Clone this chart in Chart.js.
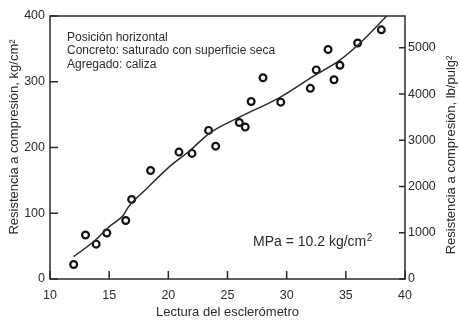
<!DOCTYPE html>
<html>
<head>
<meta charset="utf-8">
<script src="https://cdn.jsdelivr.net/npm/chart.js@4/dist/chart.umd.min.js"></script>
<style>
  html, body { margin: 0; padding: 0; background: #fff; }
  #wrap { width: 460px; height: 320px; }
</style>
</head>
<body>
<div id="wrap"><canvas id="chart" width="460" height="320"></canvas></div>
<script>
// lectura del esclerometro vs resistencia (kg/cm2)
const lecturas = [12, 13, 13.9, 14.8, 16.4, 16.9, 18.5, 20.9, 22, 23.4, 24, 26, 26.5, 27, 28, 29.5, 32, 32.5, 33.5, 34, 34.5, 36, 38];
const resistencias = [22, 67, 53, 70, 89, 121, 165, 193, 191, 226, 202, 238, 231, 270, 306, 269, 290, 318, 349, 303, 325, 359, 379];

// fitted curve
const curvaX = [12, 13.7, 15.1, 16.2, 16.6, 18.2, 20.1, 21.8, 23.5, 26.1, 29.4, 32.3, 34.5, 36.2, 38.45];
const curvaY = [34, 57, 81, 97, 109, 138, 171, 195, 222, 247, 276, 309, 333, 359, 400];

const xTicks = [10, 15, 20, 25, 30, 35, 40];
const yTicksKg = [0, 100, 200, 300, 400];
const yTicksPsi = [0, 1000, 2000, 3000, 4000, 5000];
const KG_TO_PSI = 14.223;

const notas = ['Posición horizontal', 'Concreto: saturado con superficie seca', 'Agregado: caliza'];
const tituloIzq = 'Resistencia a compresión, kg/cm²';
const tituloDer = 'Resistencia a compresión, lb/pulg²';

const ink = '#2b2b2b';
const fontFam = '"Liberation Sans", Arial, sans-serif';

function vertText(ctx, text, x, y) {
    ctx.save();
    ctx.translate(x, y);
    ctx.rotate(-Math.PI / 2);
    ctx.textAlign = 'center';
    ctx.textBaseline = 'middle';
    ctx.fillText(text, 0, 0);
    ctx.restore();
}

// frame + inward tick marks + text notes
const framePlugin = {
    id: 'frame',
    afterDatasetsDraw(chart) {
        const { ctx, chartArea: a, scales } = chart;
        ctx.save();
        ctx.strokeStyle = ink;
        ctx.lineWidth = 1.5;
        ctx.strokeRect(a.left, a.top, a.right - a.left, a.bottom - a.top);

        ctx.beginPath();
        xTicks.forEach(v => {
            const px = scales.x.getPixelForValue(v);
            ctx.moveTo(px, a.bottom);
            ctx.lineTo(px, a.bottom - 8);
        });
        yTicksKg.forEach(v => {
            const py = scales.y.getPixelForValue(v);
            ctx.moveTo(a.left, py);
            ctx.lineTo(a.left + 8, py);
        });
        yTicksPsi.forEach(v => {
            const py = scales.y2.getPixelForValue(v);
            ctx.moveTo(a.right, py);
            ctx.lineTo(a.right - 6, py);
        });
        ctx.stroke();

        ctx.fillStyle = ink;
        ctx.font = '12px ' + fontFam;
        ctx.textBaseline = 'alphabetic';
        notas.forEach((t, i) => {
            ctx.fillText(t, a.left + 17, a.top + 24.5 + i * 13.5);
        });

        // MPa note with superscript
        const base = 'MPa = 10.2 kg/cm';
        ctx.font = '14px ' + fontFam;
        const nx = a.left + 203, ny = a.bottom - 33;
        ctx.fillText(base, nx, ny);
        const w = ctx.measureText(base).width;
        ctx.font = '10px ' + fontFam;
        ctx.fillText('2', nx + w + 0.5, ny - 5);

        // axis titles, reading bottom to top
        ctx.font = '13px ' + fontFam;
        vertText(ctx, tituloIzq, 14, 137);
        vertText(ctx, tituloDer, chart.width - 9, 155);
        ctx.restore();
    }
};

const tickFont = { size: 12.5, family: fontFam };

new Chart(document.getElementById('chart'), {
    type: 'scatter',
    data: {
        datasets: [
            {
                type: 'line',
                label: 'curva',
                data: curvaX.map((x, i) => ({ x, y: curvaY[i] })),
                borderColor: ink,
                borderWidth: 1.5,
                pointRadius: 0,
                cubicInterpolationMode: 'monotone',
                fill: false,
                yAxisID: 'y'
            },
            {
                label: 'ensayos',
                data: lecturas.map((x, i) => ({ x, y: resistencias[i] })),
                backgroundColor: '#fff',
                borderColor: '#111',
                borderWidth: 2.2,
                pointRadius: 3.4,
                yAxisID: 'y'
            }
        ]
    },
    options: {
        responsive: false,
        animation: false,
        events: [],
        layout: { padding: { top: 16, left: 0, right: 0, bottom: 0 } },
        plugins: {
            legend: { display: false },
            tooltip: { enabled: false }
        },
        scales: {
            x: {
                type: 'linear',
                min: 10, max: 40,
                afterFit: s => { s.height = 41; },
                afterBuildTicks: s => { s.ticks = xTicks.map(v => ({ value: v })); },
                grid: { display: false, drawTicks: false },
                border: { display: false },
                ticks: { color: ink, font: tickFont, padding: 9, maxRotation: 0 },
                title: { display: true, text: 'Lectura del esclerómetro', color: ink,
                         font: { size: 13, family: fontFam }, padding: { top: 0, bottom: 0 } }
            },
            y: {
                type: 'linear',
                position: 'left',
                min: 0, max: 400,
                afterFit: s => { s.width = 50; },
                afterBuildTicks: s => { s.ticks = yTicksKg.map(v => ({ value: v })); },
                grid: { display: false, drawTicks: false },
                border: { display: false },
                ticks: { color: ink, font: tickFont, padding: 5 },
                title: { display: false }
            },
            y2: {
                type: 'linear',
                position: 'right',
                min: 0, max: 400 * KG_TO_PSI,
                afterFit: s => { s.width = 55; },
                afterBuildTicks: s => { s.ticks = yTicksPsi.map(v => ({ value: v })); },
                grid: { display: false, drawTicks: false },
                border: { display: false },
                ticks: { color: ink, font: tickFont, padding: 3,
                         callback: v => String(v) },
                title: { display: false }
            }
        }
    },
    plugins: [framePlugin]
});
</script>
</body>
</html>
